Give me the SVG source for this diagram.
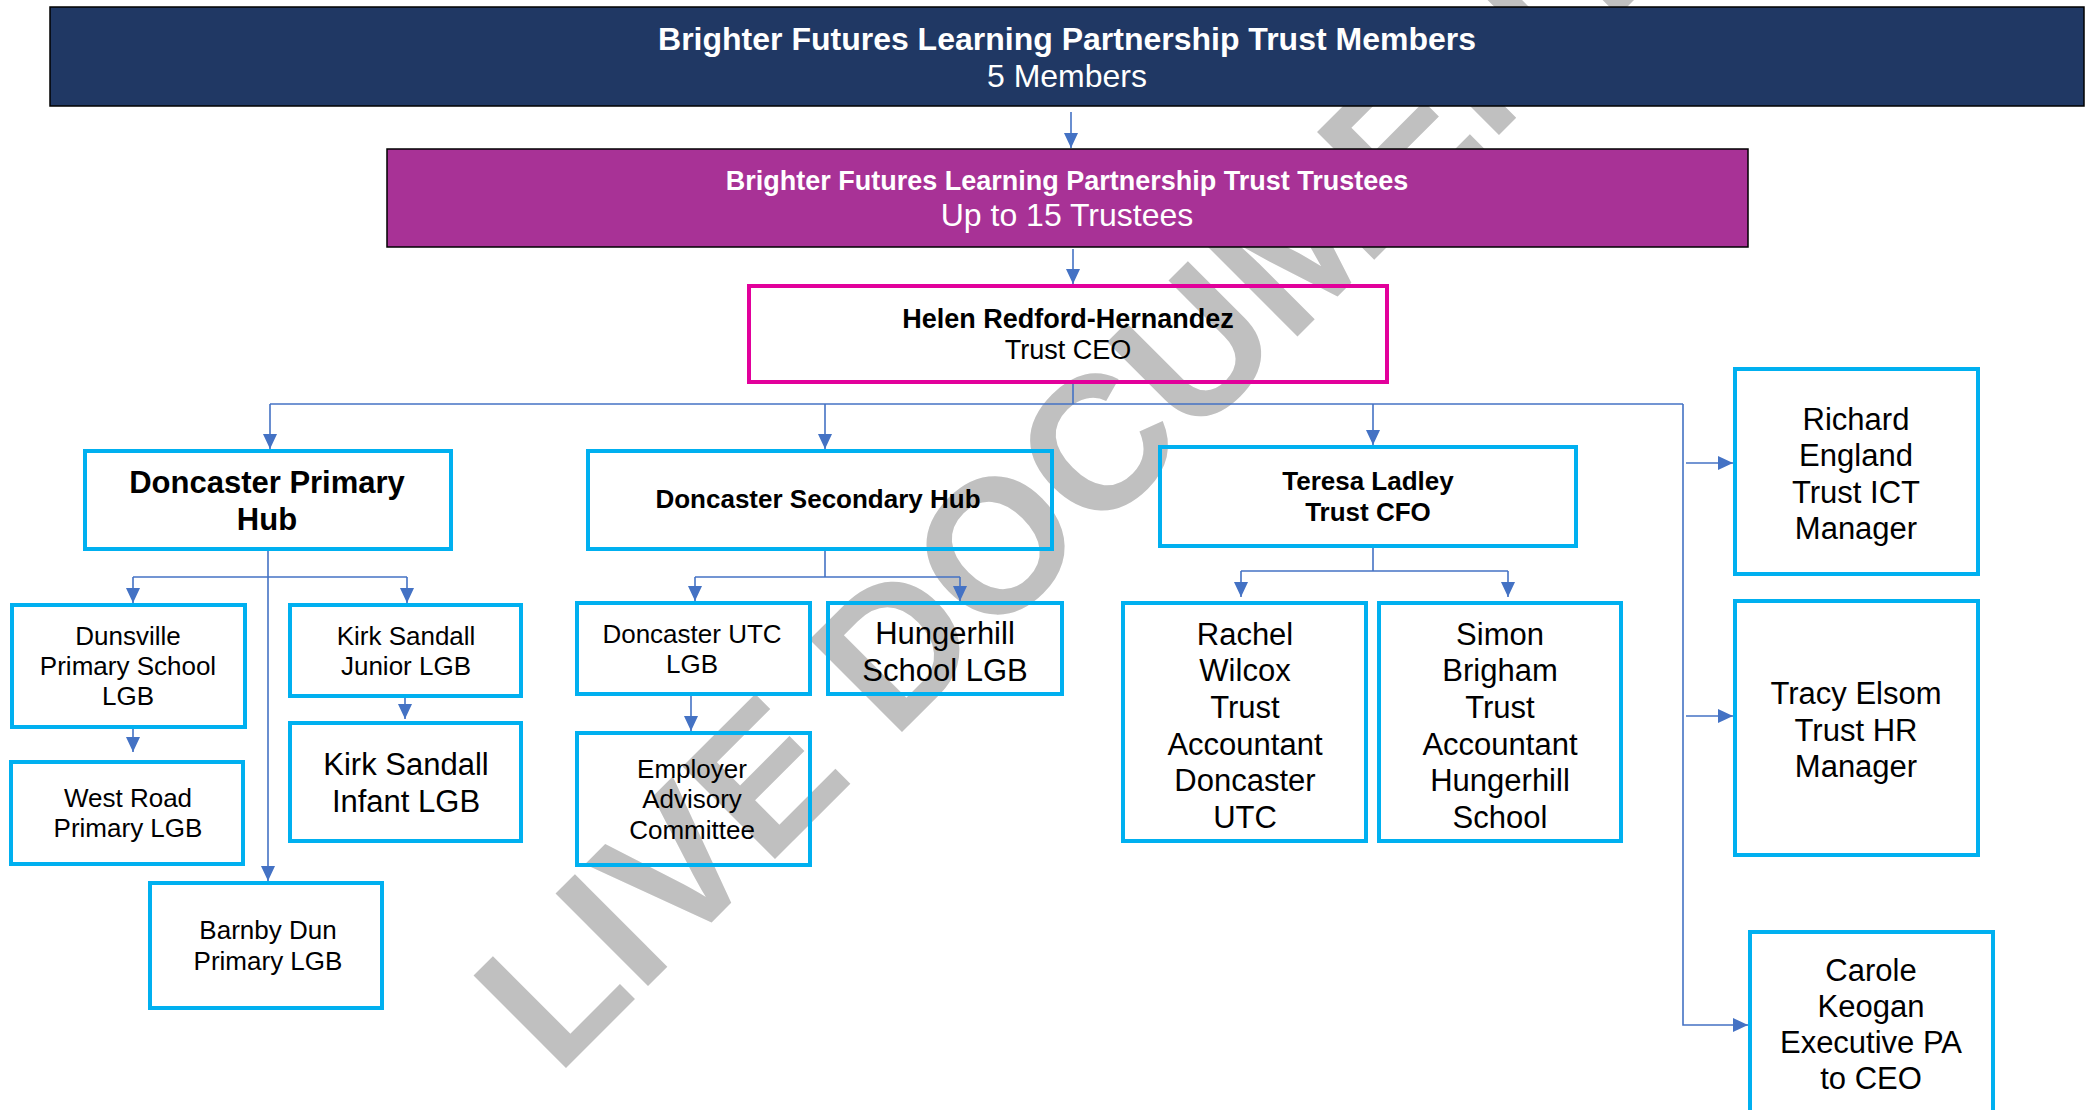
<svg xmlns="http://www.w3.org/2000/svg" width="2096" height="1110" viewBox="0 0 2096 1110">
<defs>
<style>
text{font-family:"Liberation Sans",Arial,sans-serif;text-anchor:middle;fill:#000}
.b{font-weight:bold}
.w{fill:#fff}
.box{fill:none;stroke:#00B0F0;stroke-width:4}
.ln{fill:none;stroke:#4472C4;stroke-width:1.6}
.ar{marker-end:url(#ah)}
.s26{font-size:26px}
.s31{font-size:31px}
</style>
<marker id="ah" markerUnits="userSpaceOnUse" markerWidth="15" markerHeight="14" refX="15" refY="7" orient="auto">
<path d="M0,0 L15,7 L0,14 z" fill="#4472C4"/>
</marker>
</defs>
<rect width="2096" height="1110" fill="#fff"/>
<g id="watermark">
<text x="0" y="0" transform="translate(557,1077) rotate(-45)" style="font-size:190px;font-weight:bold;fill:#C0C0C0;text-anchor:start">LIVE DOCUMENT</text>
</g>
<g id="members">
<rect x="50" y="7" width="2034" height="99" fill="#203864" stroke="#000" stroke-width="1.5"/>
<text class="b w" x="1067" y="50" style="font-size:32px">Brighter Futures Learning Partnership Trust Members</text>
<text class="w" x="1067" y="87" style="font-size:32px">5 Members</text>
</g>
<g id="trustees">
<rect x="387" y="149" width="1361" height="98" fill="#A83296" stroke="#000" stroke-width="1.5"/>
<text class="b w" x="1067" y="190" style="font-size:27px">Brighter Futures Learning Partnership Trust Trustees</text>
<text class="w" x="1067" y="226" style="font-size:32px">Up to 15 Trustees</text>
</g>
<g id="ceo">
<rect x="749" y="286" width="638" height="96" fill="none" stroke="#E2009B" stroke-width="4"/>
<text class="b" x="1068" y="328" style="font-size:27px">Helen Redford-Hernandez</text>
<text x="1068" y="359" style="font-size:27px">Trust CEO</text>
</g>
<g id="primary-hub">
<rect class="box" x="85" y="451" width="366" height="98"/>
<text class="b s31" x="267" y="493">Doncaster Primary</text>
<text class="b s31" x="267" y="530">Hub</text>
</g>
<g id="secondary-hub">
<rect class="box" x="588" y="451" width="464" height="98"/>
<text class="b s26" x="818" y="508">Doncaster Secondary Hub</text>
</g>
<g id="cfo">
<rect class="box" x="1160" y="447" width="416" height="99"/>
<text class="b s26" x="1368" y="490">Teresa Ladley</text>
<text class="b s26" x="1368" y="521">Trust CFO</text>
</g>
<g id="dunsville">
<rect class="box" x="12" y="605" width="233" height="122"/>
<text class="s26" x="128" y="645">Dunsville</text>
<text class="s26" x="128" y="675">Primary School</text>
<text class="s26" x="128" y="705">LGB</text>
</g>
<g id="west-road">
<rect class="box" x="11" y="762" width="232" height="102"/>
<text class="s26" x="128" y="807">West Road</text>
<text class="s26" x="128" y="837">Primary LGB</text>
</g>
<g id="ks-junior">
<rect class="box" x="290" y="605" width="231" height="91"/>
<text class="s26" x="406" y="645">Kirk Sandall</text>
<text class="s26" x="406" y="675">Junior LGB</text>
</g>
<g id="ks-infant">
<rect class="box" x="290" y="723" width="231" height="118"/>
<text class="s31" x="406" y="775">Kirk Sandall</text>
<text class="s31" x="406" y="812">Infant LGB</text>
</g>
<g id="barnby">
<rect class="box" x="150" y="883" width="232" height="125"/>
<text class="s26" x="268" y="939">Barnby Dun</text>
<text class="s26" x="268" y="970">Primary LGB</text>
</g>
<g id="utc">
<rect class="box" x="577" y="603" width="233" height="91"/>
<text class="s26" x="692" y="643">Doncaster UTC</text>
<text class="s26" x="692" y="673">LGB</text>
</g>
<g id="hungerhill">
<rect class="box" x="828" y="603" width="234" height="91"/>
<text class="s31" x="945" y="644">Hungerhill</text>
<text class="s31" x="945" y="681">School LGB</text>
</g>
<g id="employer">
<rect class="box" x="577" y="733" width="233" height="132"/>
<text class="s26" x="692" y="778">Employer</text>
<text class="s26" x="692" y="808">Advisory</text>
<text class="s26" x="692" y="839">Committee</text>
</g>
<g id="rachel">
<rect class="box" x="1123" y="603" width="243" height="238"/>
<text class="s31" x="1245" y="645">Rachel</text>
<text class="s31" x="1245" y="681">Wilcox</text>
<text class="s31" x="1245" y="718">Trust</text>
<text class="s31" x="1245" y="755">Accountant</text>
<text class="s31" x="1245" y="791">Doncaster</text>
<text class="s31" x="1245" y="828">UTC</text>
</g>
<g id="simon">
<rect class="box" x="1379" y="603" width="242" height="238"/>
<text class="s31" x="1500" y="645">Simon</text>
<text class="s31" x="1500" y="681">Brigham</text>
<text class="s31" x="1500" y="718">Trust</text>
<text class="s31" x="1500" y="755">Accountant</text>
<text class="s31" x="1500" y="791">Hungerhill</text>
<text class="s31" x="1500" y="828">School</text>
</g>
<g id="richard">
<rect class="box" x="1735" y="369" width="243" height="205"/>
<text class="s31" x="1856" y="430">Richard</text>
<text class="s31" x="1856" y="466">England</text>
<text class="s31" x="1856" y="503">Trust ICT</text>
<text class="s31" x="1856" y="539">Manager</text>
</g>
<g id="tracy">
<rect class="box" x="1735" y="601" width="243" height="254"/>
<text class="s31" x="1856" y="704">Tracy Elsom</text>
<text class="s31" x="1856" y="741">Trust HR</text>
<text class="s31" x="1856" y="777">Manager</text>
</g>
<g id="carole">
<rect class="box" x="1750" y="932" width="243" height="200"/>
<text class="s31" x="1871" y="981">Carole</text>
<text class="s31" x="1871" y="1017">Keogan</text>
<text class="s31" x="1871" y="1053">Executive PA</text>
<text class="s31" x="1871" y="1089">to CEO</text>
</g>
<g id="connectors">
<path class="ln ar" d="M1071,112 V148"/>
<path class="ln ar" d="M1073,249 V284"/>
<path class="ln" d="M1073,384 V404"/>
<path class="ln" d="M270,404 H1683"/>
<path class="ln ar" d="M1683,404 V1025 H1748"/>
<path class="ln ar" d="M270,404 V449"/>
<path class="ln ar" d="M825,404 V449"/>
<path class="ln ar" d="M1373,404 V445"/>
<path class="ln ar" d="M1686,463 H1733"/>
<path class="ln ar" d="M1686,716 H1733"/>
<path class="ln ar" d="M268,551 V881"/>
<path class="ln" d="M133,577 H407"/>
<path class="ln ar" d="M133,577 V603"/>
<path class="ln ar" d="M407,577 V603"/>
<path class="ln ar" d="M133,729 V752"/>
<path class="ln ar" d="M405,698 V719"/>
<path class="ln" d="M825,551 V577"/>
<path class="ln" d="M695,577 H960"/>
<path class="ln ar" d="M695,577 V601"/>
<path class="ln ar" d="M960,577 V601"/>
<path class="ln ar" d="M691,696 V731"/>
<path class="ln" d="M1373,548 V571"/>
<path class="ln" d="M1241,571 H1508"/>
<path class="ln ar" d="M1241,571 V597"/>
<path class="ln ar" d="M1508,571 V597"/>
</g>
</svg>
